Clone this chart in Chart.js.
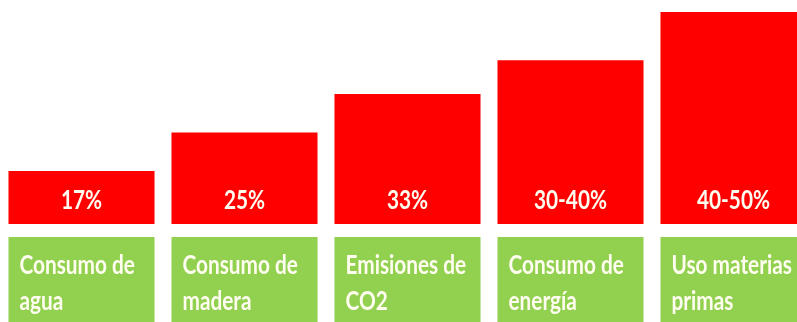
<!DOCTYPE html>
<html><head><meta charset="utf-8">
<script src="https://cdn.jsdelivr.net/npm/chart.js@4.4.1/dist/chart.umd.min.js"></script>
<style>
html,body{margin:0;padding:0;background:#fff;overflow:hidden;width:797px;height:322px}
#wrap{position:relative;width:815px;height:322px}
</style></head><body>
<div id="wrap"><canvas id="c" width="815" height="322"></canvas></div>
<script>
// Environmental savings by category
const categories = [['Consumo de', 'agua'], ['Consumo de', 'madera'], ['Emisiones de', 'CO2'], ['Consumo de', 'energía'], ['Uso materias', 'primas']];
const rangeLow = [17, 25, 33, 30, 40];
const rangeHigh = [17, 25, 33, 40, 50];
const valueLabels = rangeLow.map((lo, i) => lo === rangeHigh[i] ? lo + '%' : lo + '-' + rangeHigh[i] + '%');

const FONT = 'bold 26px Lato';
const SQUEEZE = 0.8;
const TEXT_COLOR = '#fffdf0';

function squeezedText(ctx, text, x, y, align) {
  ctx.save();
  ctx.translate(x, y);
  ctx.scale(SQUEEZE, 1);
  ctx.textAlign = align;
  ctx.fillText(text, 0, 0);
  ctx.restore();
}

// Value text inside each bar and a green caption panel beneath it
const panels = {
  id: 'panels',
  afterDatasetsDraw(chart) {
    const ctx = chart.ctx;
    const base = chart.chartArea.bottom;
    chart.getDatasetMeta(0).data.forEach((bar, i) => {
      const left = bar.x - bar.width / 2;
      ctx.font = FONT;
      ctx.textBaseline = 'alphabetic';
      ctx.fillStyle = TEXT_COLOR;
      squeezedText(ctx, valueLabels[i], bar.x, base - 15, 'center');
      ctx.fillStyle = '#92d050';
      ctx.fillRect(left, base + 13, bar.width, chart.height - base);
      ctx.fillStyle = TEXT_COLOR;
      categories[i].forEach((line, j) => squeezedText(ctx, line, left + 11, base + 50 + j * 36, 'left'));
    });
  }
};

function draw() {
  new Chart(document.getElementById('c'), {
    type: 'bar',
    data: {
      labels: categories.map(c => c.join(' ')),
      datasets: [{
        data: rangeHigh,
        backgroundColor: '#ff0000',
        borderWidth: 0,
        barPercentage: 0.896,
        categoryPercentage: 1
      }]
    },
    options: {
      responsive: false,
      animation: false,
      layout: { padding: { top: 0, left: 0, right: 0, bottom: 98 } },
      scales: {
        x: { display: false },
        y: { display: false, min: 6, max: 52.5 }
      },
      plugins: { legend: { display: false }, tooltip: { enabled: false } }
    },
    plugins: [panels]
  });
}
document.fonts.load(FONT).then(draw, draw);
</script>
</body></html>
